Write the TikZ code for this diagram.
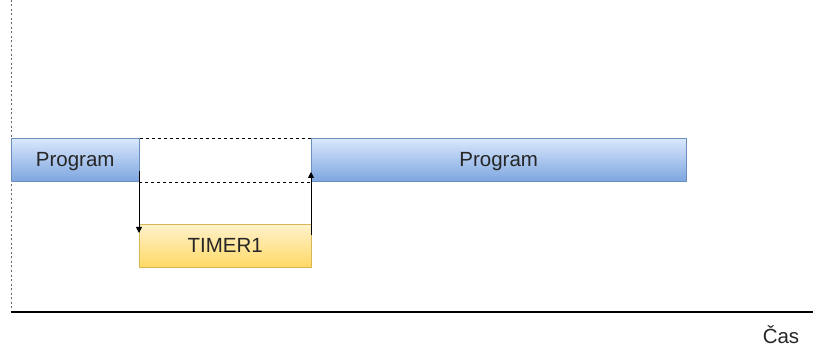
\documentclass[tikz,border=0pt]{standalone}
\usepackage{fontspec}
\setmainfont{Liberation Sans}
\usetikzlibrary{arrows.meta}
\definecolor{bluetop}{HTML}{DAE8FC}
\definecolor{bluebot}{HTML}{7EA6E0}
\definecolor{blueline}{HTML}{6C8EBF}
\definecolor{yeltop}{HTML}{FFF2CC}
\definecolor{yelbot}{HTML}{FFD966}
\definecolor{yelline}{HTML}{D6B656}
\tikzset{
  x=1pt, y=-1pt,
  lbl/.style={font=\fontsize{20.5}{24}\selectfont, text=black!85},
  prog/.style={lbl, draw=blueline, top color=bluetop, bottom color=bluebot, minimum height=43pt, inner sep=0pt, anchor=north west, text depth=1pt},
  timer/.style={lbl, draw=yelline, top color=yeltop, bottom color=yelbot, minimum height=43pt, inner sep=0pt, anchor=north west},
  gap/.style={draw=black, dashed, minimum height=44pt, inner sep=0pt, anchor=north west},
  flow/.style={-{Triangle[length=6pt,width=6pt]}, line width=0.9pt},
}
\begin{document}
\begin{tikzpicture}
\useasboundingbox (0,0) rectangle (813,347);
\draw[black!60, dash pattern=on 2pt off 2.5pt, line width=1pt] (11,0) -- (11,310);
\draw[black, line width=1.5pt] (11,312) -- (813,312);
\node[lbl, anchor=center] (cas) at (781,335) {Čas};
\node[gap, minimum width=172pt] (g) at (139,138) {};
\node[prog, minimum width=128pt] (p1) at (11,138) {Program};
\node[prog, minimum width=375pt] (p2) at (311,138) {Program};
\node[timer, minimum width=172pt] (t) at (139,224) {TIMER1};
\coordinate (d1) at (139,171);
\coordinate (u1) at (311,235);
\draw[flow] (d1) -- (t.north west |- 0,233);
\draw[flow] (u1) -- (p2.south west |- 0,172);
\end{tikzpicture}
\end{document}
